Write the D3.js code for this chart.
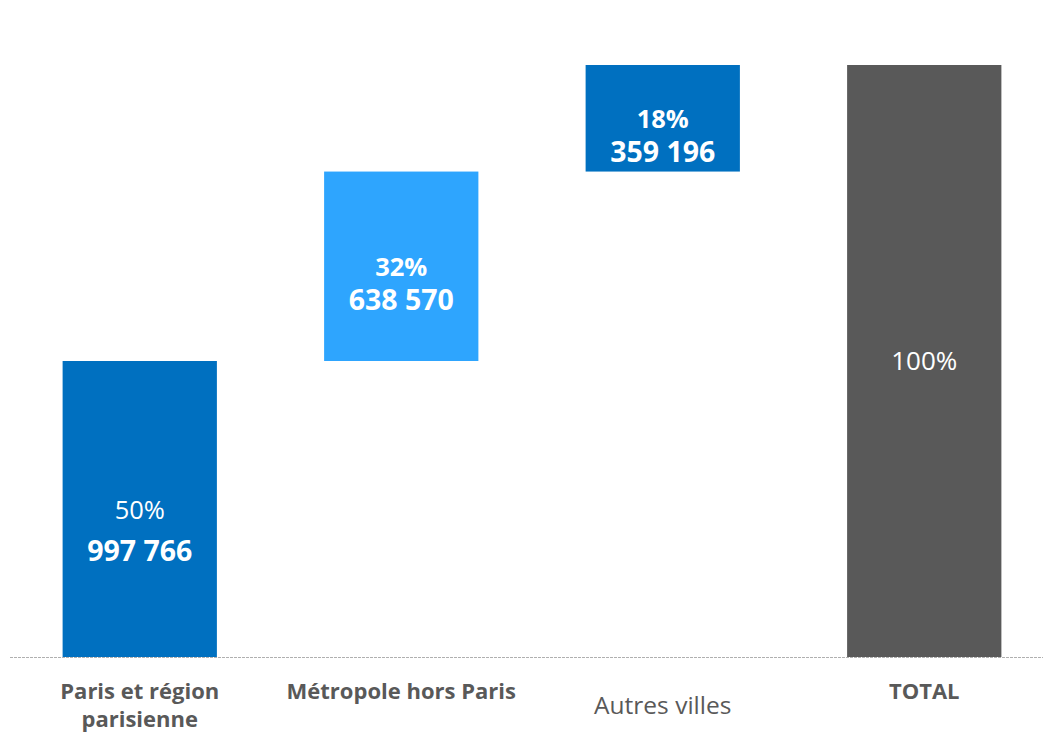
<!DOCTYPE html>
<html>
<head>
<meta charset="utf-8">
<script src="https://cdn.jsdelivr.net/npm/d3@7"></script>
<style>
  html, body { margin: 0; padding: 0; background: #fff; }
  svg { display: block; font-family: "Open Sans", sans-serif; }
</style>
</head>
<body>
<svg id="chart" width="1043" height="737"></svg>
<script>
// Waterfall: breakdown of the total by area
const categories = ["Paris et région parisienne", "Métropole hors Paris", "Autres villes", "TOTAL"];
const labelLines = [["Paris et région", "parisienne"], ["Métropole hors Paris"], ["Autres villes"], ["TOTAL"]];
const values = [997766, 638570, 359196, 1995532];
const percents = ["50%", "32%", "18%", "100%"];
const isTotal = [false, false, false, true];

const colors = ["#0070C0", "#2EA5FE", "#0070C0", "#595959"];
const pctBold = [false, true, true, false];
const catBold = [true, true, false, true];

const svg = d3.select("#chart");
const width = 1043;
const baseY = 657;
const topY = 65;

// running starts for the floating bars
let run = 0;
const bars = categories.map((c, i) => {
  let y0, y1;
  if (isTotal[i]) { y0 = 0; y1 = values[i]; }
  else { y0 = run; y1 = run + values[i]; run = y1; }
  return { cat: c, i, y0, y1, v: values[i] };
});

const x = d3.scaleBand()
  .domain(categories)
  .range([9, 1055])
  .paddingInner(0.41)
  .paddingOuter(0.205);

const y = d3.scaleLinear()
  .domain([0, d3.max(values)])
  .range([baseY, topY]);

// bars
svg.append("g").selectAll("rect")
  .data(bars).join("rect")
  .attr("x", d => x(d.cat))
  .attr("width", x.bandwidth())
  .attr("y", d => y(d.y1))
  .attr("height", d => y(d.y0) - y(d.y1))
  .attr("fill", d => colors[d.i]);

// baseline axis
svg.append("line")
  .attr("x1", 10).attr("x2", width)
  .attr("y1", baseY + 0.5).attr("y2", baseY + 0.5)
  .attr("stroke", "#b0b0b0")
  .attr("stroke-width", 1.2)
  .attr("stroke-dasharray", "3,1");

const fmt = v => d3.format(",")(v).replace(/,/g, " ");

// value labels inside bars
const lab = svg.append("g").attr("fill", "#fff").attr("text-anchor", "middle");
bars.forEach(d => {
  const cx = x(d.cat) + x.bandwidth() / 2;
  const mid = (y(d.y0) + y(d.y1)) / 2;
  if (d.i === 3) {
    lab.append("text").attr("x", cx).attr("y", mid + 9)
      .attr("font-size", 26).text(percents[d.i]);
    return;
  }
  const offs = d.i === 0 ? [10, 52] : [10, 44];
  lab.append("text").attr("x", cx).attr("y", mid + offs[0])
    .attr("font-size", 25.5)
    .attr("font-weight", pctBold[d.i] ? "bold" : "normal")
    .text(percents[d.i]);
  lab.append("text").attr("x", cx).attr("y", mid + offs[1])
    .attr("font-size", 28.5).attr("font-weight", "bold")
    .text(fmt(d.v));
});

// category labels
const cl = svg.append("g").attr("fill", "#595959").attr("text-anchor", "middle");
categories.forEach((c, i) => {
  const cx = x(c) + x.bandwidth() / 2;
  const t = cl.append("text")
    .attr("x", cx)
    .attr("y", catBold[i] ? 699 : 714)
    .attr("font-size", catBold[i] ? 22 : 24.5)
    .attr("font-weight", catBold[i] ? "bold" : "normal");
  labelLines[i].forEach((ln, k) => {
    t.append("tspan").attr("x", cx).attr("dy", k === 0 ? 0 : 28).text(ln);
  });
});
</script>
</body>
</html>
